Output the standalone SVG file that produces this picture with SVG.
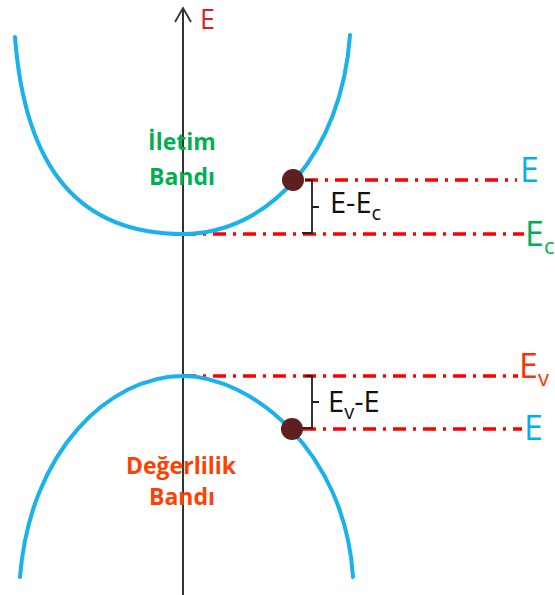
<svg xmlns="http://www.w3.org/2000/svg" width="555" height="595" viewBox="0 0 555 595">
<style>
.band{fill:none;stroke:#19B2EC;stroke-width:4;stroke-linecap:round}
.lvl{stroke:#FF0000;stroke-width:3.5;stroke-dasharray:13 7 3 7;fill:none}
.brace{fill:none;stroke:#222;stroke-width:1.8}
.dot{fill:#5E1F1F}
.lbl{font-family:"Open Sans","Liberation Sans",sans-serif}
.bold{font-family:"Open Sans","Liberation Sans",sans-serif;font-weight:bold;font-size:23px;text-anchor:middle}
</style>
<rect width="555" height="595" fill="#ffffff"/>
<g id="axis">
<line x1="183" y1="8" x2="183" y2="595" stroke="#333" stroke-width="2"/>
<polyline points="175,22 183,8 191,22" fill="none" stroke="#333" stroke-width="1.8"/>
<text class="lbl" x="200" y="29" font-size="27" fill="#DD1F1F">E</text>
</g>
<g id="connectors">
<line class="lvl" x1="305" y1="180" x2="517" y2="180"/>
<line class="lvl" x1="183" y1="234" x2="524" y2="234"/>
<line class="lvl" x1="183" y1="376" x2="518" y2="376"/>
<line class="lvl" x1="303" y1="429" x2="522" y2="429"/>
<path class="brace" d="M305,180 H312 V233 H302 M312,207 H319"/>
<path class="brace" d="M305,376 H312 V428 H303 M312,402 H319" stroke="#444"/>
</g>
<g id="conduction-band">
<path class="band" d="M15,37 C25,170 80,234 183,234 C270,234 342,152 350,35"/>
<text class="bold" x="182" y="150" fill="#00B050">İletim</text>
<text class="bold" x="182" y="185" fill="#00B050">Bandı</text>
</g>
<g id="valence-band">
<path class="band" d="M20,577 C30,450 110,376 183,376 C250,376 345,450 353,577"/>
<text class="bold" x="181" y="474" fill="#FF4000" font-size="21">Değerlilik</text>
<text class="bold" x="182" y="505" fill="#FF4000" font-size="21">Bandı</text>
</g>
<g id="electron">
<circle class="dot" cx="293" cy="180" r="11"/>
</g>
<g id="hole">
<circle class="dot" cx="292" cy="429" r="11"/>
</g>
<g id="label-E-Ec">
<text class="lbl" x="330" y="213" font-size="29" fill="#111">E-E<tspan font-size="20" dy="7">c</tspan></text>
</g>
<g id="label-Ev-E">
<text class="lbl" x="328" y="412" font-size="29" fill="#111">E<tspan font-size="20" dy="7">v</tspan><tspan dy="-7">-E</tspan></text>
</g>
<g id="level-labels">
<text class="lbl" x="520" y="182" font-size="34" fill="#00B0F0">E</text>
<text class="lbl" x="525" y="246" font-size="34" fill="#00B050">E<tspan font-size="22" dy="8">c</tspan></text>
<text class="lbl" x="519" y="378" font-size="34" fill="#FF3300">E<tspan font-size="22" dy="8">v</tspan></text>
<text class="lbl" x="524" y="440" font-size="34" fill="#00B0F0">E</text>
</g>
</svg>
